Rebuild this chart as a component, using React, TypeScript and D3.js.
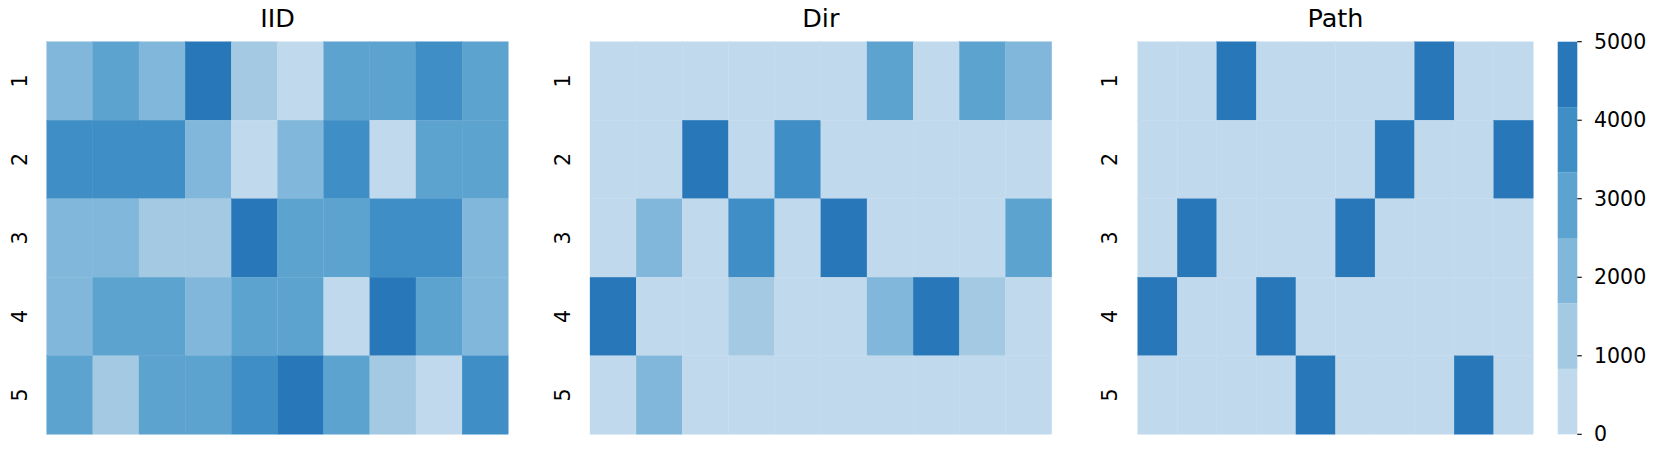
import React from 'react';
import * as d3 from 'd3';

// client rows and class columns
const clients = ['1', '2', '3', '4', '5'];
const classes = d3.range(10);
const panelTitles = ['IID', 'Dir', 'Path'];

// samples per (client, class)
const iidValues = [
  [2100, 2900, 2100, 4600, 1300, 400, 2900, 2900, 3700, 2900],
  [3700, 3700, 3700, 2100, 400, 2100, 3700, 400, 2900, 2900],
  [2100, 2100, 1300, 1300, 4600, 2900, 2900, 3700, 3700, 2100],
  [2100, 2900, 2900, 2100, 2900, 2900, 400, 4600, 2900, 2100],
  [2900, 1300, 2900, 2900, 3700, 4600, 2900, 1300, 400, 3700]
];
const dirValues = [
  [0, 0, 0, 0, 0, 0, 2900, 0, 2900, 2100],
  [0, 0, 4700, 0, 3600, 0, 0, 0, 0, 0],
  [0, 2100, 0, 3700, 0, 4800, 0, 0, 0, 2800],
  [4900, 0, 0, 1200, 0, 0, 2000, 4900, 1300, 0],
  [0, 2000, 0, 0, 0, 0, 0, 0, 0, 0]
];
const pathValues = [
  [0, 0, 5000, 0, 0, 0, 0, 5000, 0, 0],
  [0, 0, 0, 0, 0, 0, 5000, 0, 0, 5000],
  [0, 5000, 0, 0, 0, 5000, 0, 0, 0, 0],
  [5000, 0, 0, 5000, 0, 0, 0, 0, 0, 0],
  [0, 0, 0, 0, 5000, 0, 0, 0, 5000, 0]
];
const cbarTicks = [0, 1000, 2000, 3000, 4000, 5000];
const palette = ['#c1d9ed', '#a3cae2', '#81b7da', '#5ca4cf', '#3f8ec5', '#2877b8'];

const width = 1662;
const height = 451;
const top = 41.7;
const bottom = 434.3;
const panels = [
  { x0: 46.7, x1: 508.3, labelX: 20, values: iidValues },
  { x0: 590, x1: 1051.7, labelX: 563, values: dirValues },
  { x0: 1137.7, x1: 1533.3, labelX: 1110, values: pathValues }
];
const cbar = { x0: 1557.7, x1: 1577.3 };
const font = '"DejaVu Sans", sans-serif';

const color = d3.scaleQuantize<string>().domain([0, 5000]).range(palette);

const App = () => {
  const y = d3.scaleBand<string>().domain(clients).range([top, bottom]);
  const cbarY = d3.scaleLinear().domain([0, 5000]).range([bottom, top]);
  const bandEdges = d3.range(palette.length + 1).map(i => (5000 * i) / palette.length);

  return (
    <div>
      <style>{'body{margin:0}'}</style>
      <svg width={width} height={height} style={{ display: 'block', fontFamily: font }}>
        {panels.map((p, pi) => {
          const x = d3.scaleBand<number>().domain(classes).range([p.x0, p.x1]);
          return (
            <g key={`panel-${pi}`}>
              <text x={(p.x0 + p.x1) / 2} y={27} textAnchor='middle' fontSize={25.5}>{panelTitles[pi]}</text>
              {p.values.map((row, ri) =>
                row.map((v, ci) => (
                  <rect
                    key={`c-${ri}-${ci}`}
                    x={x(ci)}
                    y={y(clients[ri])}
                    width={x.bandwidth()}
                    height={y.bandwidth()}
                    fill={color(v)}
                    stroke={color(v)}
                    strokeWidth={0.3}
                  />
                ))
              )}
              {clients.map(c => {
                const cy = (y(c) as number) + y.bandwidth() / 2;
                return (
                  <text
                    key={`yl-${c}`}
                    transform={`translate(${p.labelX},${cy}) rotate(-90)`}
                    textAnchor='middle'
                    dominantBaseline='central'
                    fontSize={20.5}
                  >{c}</text>
                );
              })}
            </g>
          );
        })}
        <g>
          {palette.map((c, i) => (
            <rect
              key={`cb-${i}`}
              x={cbar.x0}
              y={cbarY(bandEdges[i + 1])}
              width={cbar.x1 - cbar.x0}
              height={cbarY(bandEdges[i]) - cbarY(bandEdges[i + 1])}
              fill={c}
            />
          ))}
          {cbarTicks.map(t => (
            <g key={`t-${t}`}>
              <line x1={cbar.x1} x2={cbar.x1 + 4.5} y1={cbarY(t)} y2={cbarY(t)} stroke='#000' strokeWidth={1.1} />
              <text x={1594} y={cbarY(t)} dominantBaseline='central' fontSize={20.5}>{t}</text>
            </g>
          ))}
        </g>
      </svg>
    </div>
  );
};

export default App;
